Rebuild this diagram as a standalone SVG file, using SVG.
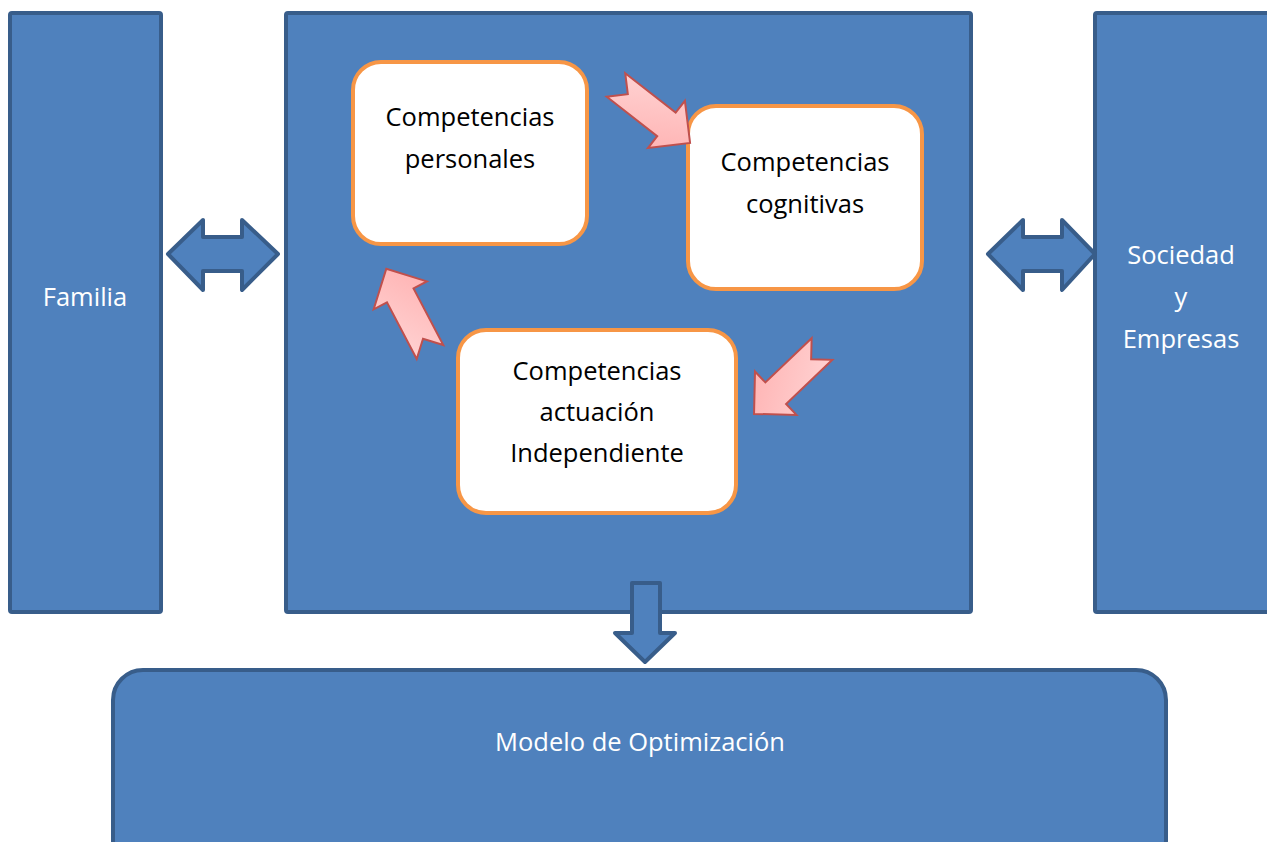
<svg xmlns="http://www.w3.org/2000/svg" width="1267" height="842" viewBox="0 0 1267 842">
<defs>
<style>
.blue{fill:#4F81BD;stroke:#385D8A;stroke-width:4;stroke-linejoin:round}
.white{fill:#FFFFFF;stroke:#F79646;stroke-width:4}
.wt{font-family:"Open Sans","Liberation Sans",Arial,sans-serif;font-size:25.5px;fill:#FFFFFF;text-anchor:middle}
.bt{font-family:"Open Sans","Liberation Sans",Arial,sans-serif;font-size:25.5px;fill:#000000;text-anchor:middle}
.pink{fill:url(#pg);stroke:#C0504D;stroke-width:2;stroke-linejoin:miter}
</style>
<linearGradient id="pg" x1="0" y1="0" x2="1" y2="1">
<stop offset="0" stop-color="#FFD6D6"/>
<stop offset="1" stop-color="#FFAFAF"/>
</linearGradient>
<path id="arr" d="M0,-15 L64,-15 L64,-30 L94,0 L64,30 L64,15 L0,15 L15,0 Z"/>
</defs>
<rect width="1267" height="842" fill="#FFFFFF"/>
<g id="familia">
<rect class="blue" x="10" y="13" width="151" height="599" rx="2"/>
<text class="wt" x="85" y="306">Familia</text>
</g>
<g id="centro">
<rect class="blue" x="286" y="13" width="685" height="599" rx="2"/>
</g>
<g id="sociedad">
<rect class="blue" x="1095" y="13" width="180" height="599" rx="2"/>
<text class="wt" x="1181" y="264">Sociedad</text>
<text class="wt" x="1181" y="306">y</text>
<text class="wt" x="1181" y="348">Empresas</text>
</g>
<g id="modelo">
<rect class="blue" x="113" y="670" width="1053" height="200" rx="30"/>
<text class="wt" x="640" y="751">Modelo de Optimización</text>
</g>
<g id="personales">
<rect class="white" x="353" y="62" width="234" height="182" rx="28"/>
<text class="bt" x="470" y="126">Competencias</text>
<text class="bt" x="470" y="168">personales</text>
</g>
<g id="cognitivas">
<rect class="white" x="688" y="106" width="234" height="183" rx="28"/>
<text class="bt" x="805" y="171">Competencias</text>
<text class="bt" x="805" y="213">cognitivas</text>
</g>
<g id="actuacion">
<rect class="white" x="458" y="330" width="278" height="183" rx="28"/>
<text class="bt" x="597" y="380">Competencias</text>
<text class="bt" x="597" y="421">actuación</text>
<text class="bt" x="597" y="462">Independiente</text>
</g>
<g id="connectors">
<path class="blue" d="M168,254 L203,220 L203,237 L242,237 L242,220 L278,254 L242,290 L242,271 L203,271 L203,290 Z"/>
<path class="blue" d="M988,254 L1023,220 L1023,237 L1062,237 L1062,220 L1095,254 L1062,290 L1062,271 L1023,271 L1023,290 Z"/>
<path class="blue" d="M632,583 L660,583 L660,633 L675,633 L645,662 L615,633 L632,633 Z"/>
<use href="#arr" class="pink" transform="translate(616,85) rotate(38)"/>
<use href="#arr" class="pink" transform="translate(822,349) rotate(136.3)"/>
<use href="#arr" class="pink" transform="translate(430,352) rotate(-117.7)"/>
</g>
</svg>
